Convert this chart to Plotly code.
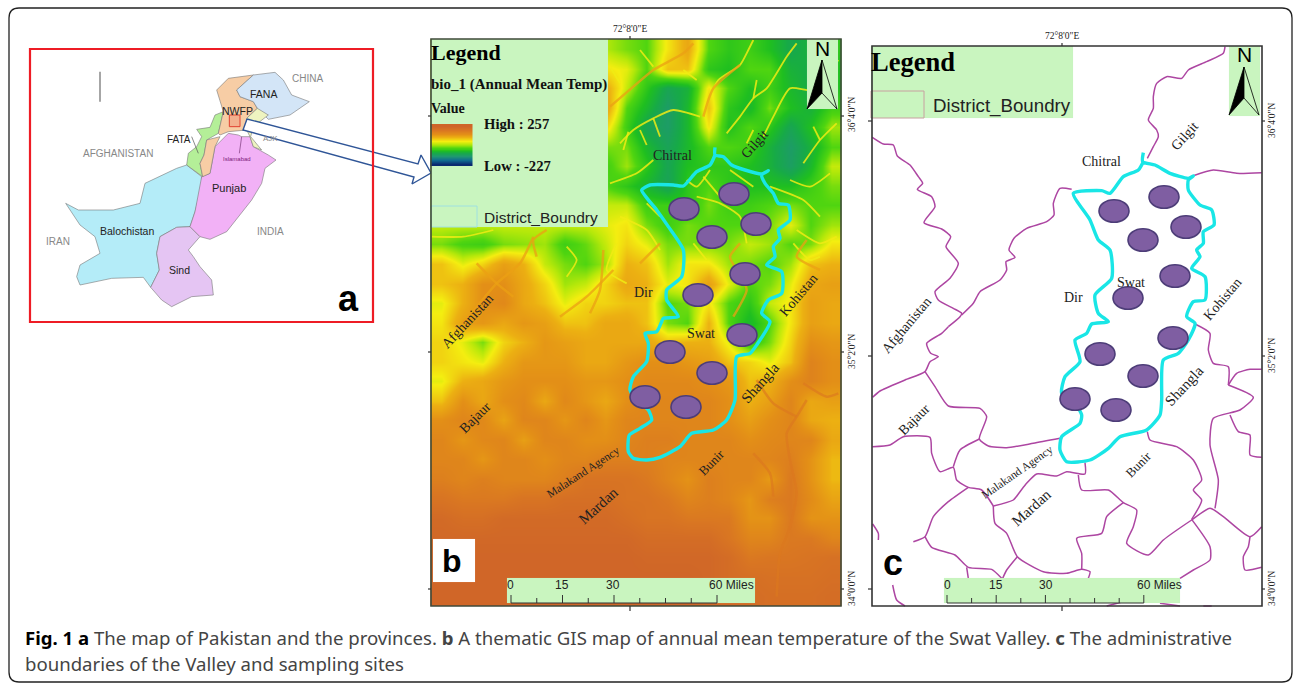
import plotly.graph_objects as go

W, H = 1295, 683
GREEN_BOX = "#c9f5bf"
# ---------- DATA ----------
temp_cols = [441,462,482,503,523,544,564,585,605,626,646,667,687,708,728,749,769,790,810,831]
temp_rows = [49,69,88,108,127,147,166,186,205,225,244,264,284,303,323,342,362,381,401,420,440,459,479,499,518,538,557,577,596]
temp = [
[90,90,90,90,90,90,90,90,85,70,60,110,150,60,40,50,30,-5,10,40],
[90,90,90,90,90,90,90,90,110,100,60,130,130,40,30,60,60,10,0,30],
[90,90,90,90,90,90,90,90,150,90,40,-10,10,110,60,30,50,20,0,30],
[90,90,90,90,90,90,90,90,160,60,20,-30,20,130,40,20,70,30,10,50],
[90,90,90,90,90,90,90,90,120,50,-10,-30,20,110,30,60,40,-10,30,80],
[90,90,90,90,90,90,90,90,70,70,20,-15,20,60,60,50,10,-30,10,60],
[90,90,90,90,90,90,90,90,50,80,40,-10,30,40,40,30,10,-25,20,90],
[90,90,90,90,90,90,90,90,60,40,15,-15,40,60,40,30,30,30,50,70],
[90,90,90,90,90,90,90,90,90,90,50,50,40,70,50,50,60,70,60,60],
[90,90,90,90,90,90,90,90,100,110,70,50,70,60,60,60,70,100,60,80],
[70,55,50,70,75,80,50,65,90,120,100,70,70,70,70,90,80,60,70,110],
[130,100,120,160,140,90,70,60,80,140,130,80,110,110,80,70,60,80,130,140],
[130,140,180,180,150,120,80,90,120,150,140,100,110,160,100,60,70,100,150,160],
[100,140,180,190,150,130,100,120,120,130,130,60,70,110,60,40,90,110,160,150],
[110,160,170,150,170,160,130,130,150,150,130,70,60,140,60,20,60,110,160,150],
[120,100,70,120,140,170,160,150,150,150,150,130,140,140,100,40,70,120,180,170],
[120,110,100,140,170,170,170,150,150,170,180,180,170,160,130,120,100,130,200,180],
[100,140,150,170,180,180,180,170,170,180,190,190,190,180,170,130,140,180,200,180],
[130,180,150,180,190,150,190,170,150,180,195,195,195,195,180,140,160,195,150,160],
[180,195,190,155,195,195,170,195,170,195,195,195,195,195,180,160,180,195,150,140],
[195,170,190,195,160,195,195,180,180,195,205,205,195,195,195,180,190,195,195,150],
[195,195,170,195,195,180,195,195,205,205,205,195,195,195,195,195,195,205,175,135],
[205,195,205,195,195,195,205,225,225,225,215,195,175,205,195,195,165,215,175,135],
[225,215,215,215,225,225,235,235,235,225,225,215,195,205,195,170,205,215,185,155],
[245,235,235,245,245,245,245,245,245,235,225,225,215,215,215,175,175,215,175,175],
[250,250,250,250,250,250,250,250,250,250,240,240,240,240,220,195,195,215,215,195],
[255,255,255,255,255,255,255,255,255,255,250,250,250,250,240,215,220,220,225,230],
[255,255,255,255,255,255,255,255,255,255,255,255,255,250,240,235,230,230,230,235],
[255,255,255,255,255,255,255,255,255,255,255,255,255,250,245,240,235,235,235,240],
]
ramp_values = [257,220,180,140,105,80,50,10,-40,-120,-227]
ramp_rows = [126,130,134,137,141,145,149,152,156,160,164]
temp_scale_stops = [(-227,"#0a2a70"),(-120,"#0f6a8f"),(-40,"#1f9870"),(0,"#17aa48"),(30,"#1fbf20"),(60,"#4fd510"),
                    (85,"#b4e80a"),(105,"#f4ee10"),(140,"#ecb012"),(180,"#e38f17"),(220,"#d97622"),(257,"#cf6528")]

a_regions = {
 "Balochistan": ("#b4ecf8",[(137,490),(175,510),(280,510),(360,490),(375,430),(430,405),(470,385),(500,375),(545,410),(545,440),(525,515),(510,560),(470,562),(420,590),(410,640),(418,690),(392,742),(370,712),(275,715),(180,735),(170,710),(180,675),(240,640),(225,590),(180,555)]),
 "Sind": ("#e5c5f3",[(470,562),(510,560),(540,590),(505,630),(520,650),(540,680),(575,720),(580,765),(515,770),(455,800),(425,780),(392,742),(418,690),(410,640),(420,590)]),
 "Punjab": ("#f2b1f6",[(545,410),(570,400),(585,320),(625,280),(655,285),(665,290),(690,290),(700,320),(745,345),(768,360),(735,385),(725,430),(695,480),(650,535),(620,575),(570,598),(540,590),(510,560),(525,515)]),
 "FATA": ("#b4ef98",[(500,375),(505,340),(530,320),(545,290),(530,268),(570,262),(585,225),(610,215),(595,280),(560,300),(552,345),(540,370),(548,410)]),
 "NWFP": ("#f7cda5",[(590,150),(625,115),(700,105),(650,150),(660,170),(700,185),(712,205),(680,235),(680,270),(625,275),(600,285),(595,280),(610,215)]),
 "NWFP2": ("#f7cda5",[(560,300),(600,290),(585,320),(570,400),(548,410),(540,370),(552,345)]),
 "FANA": ("#d3e5f7",[(650,150),(700,105),(765,97),(790,120),(815,165),(868,185),(810,225),(745,238),(712,205),(700,185),(660,170)]),
 "AJK": ("#eef4c0",[(712,205),(745,225),(700,260),(692,290),(725,330),(700,320),(690,290),(680,270),(680,235)]),
}
a_texts = [("CHINA",307,78,10,"#888888"),("FANA",263,94,10.5,"#222222"),("NWFP",237,111,10.5,"#222222"),
           ("FATA",179,139,10,"#222222"),("AFGHANISTAN",118,153,10,"#888888"),("Islamabad",237,159,6,"#7a1a7a"),
           ("Punjab",229,188,11,"#222222"),("Balochistan",127,231,10.5,"#222222"),("INDIA",270,231,10,"#888888"),
           ("IRAN",58,241,10,"#888888"),("Sind",179,270,10.5,"#222222"),("AJK",270,138,8,"#888888")]
arrow_x = [247,418,421,431,412,414,243]
arrow_y = [119,164,155,173,184,177,130]

b_veins_yellow = [
 [(850,260),(870,200),(895,150),(960,105),(985,60),(1000,30)],
 [(600,340),(640,300),(700,265),(760,240),(840,260)],[(625,305),(610,360)],[(660,300),(680,345)],[(700,265),(720,320)],
 [(1130,40),(1100,80),(1040,175),(1000,205),(960,260),(920,310)],
 [(1255,90),(1180,180),(1110,175),(1060,260),(1030,320)],[(1000,205),(1010,150)],[(1180,180),(1200,130)],
 [(1250,280),(1200,330),(1150,400)],[(1200,330),(1180,290)],
 [(570,460),(650,430),(700,390)],[(870,420),(830,470),(800,450)],
 [(1050,470),(1150,510),(1200,560)],[(850,440),(900,500)],[(930,420),(1000,470)],
 [(600,560),(680,600),(720,660)],[(1130,600),(1200,640),(1250,620)],[(980,340),(1000,300)],
 [(830,500),(900,520),(960,560),(980,640)],[(1110,450),(1170,470),(1230,430)],
 [(35,620),(130,620),(220,600)],[(440,650),(470,690),(440,740)],[(590,640),(560,720),(620,760)],
 [(820,640),(860,690)],[(1120,640),(1170,690),(1200,680)],[(680,520),(720,560)],
 [(570,110),(600,160)],[(660,60),(700,110)],[(790,120),(830,150)],
]
b_veins_orange = [
 [(570,230),(640,170),(700,120),(790,70),(820,40)],
 [(850,260),(880,175),(960,105)],
 [(340,620),(300,700),(230,760),(130,880)],[(380,600),(340,630),(350,680)],
 [(550,660),(540,780),(510,850)],[(720,640),(660,700)],
 [(960,640),(930,680),(950,720)],[(940,860),(980,780),(960,730)],
 [(1160,630),(1130,680),(1200,720)],[(170,700),(230,760),(280,800)],[(420,860),(500,800),(580,720)],
]
b_veins_lower = [
 [(1130,290),(1100,340),(1110,420),(1130,520),(1110,620),(1080,700),(1070,830)],
 [(1150,190),(1220,230),(1255,220)],[(1130,290),(1160,240)],[(1010,180),(1060,250),(1130,290)],
 [(1000,400),(1050,460),(1060,530)],[(720,90),(760,110)],
]

swat_b_z2a = [(885,352),(885,375),(910,380),(935,405),(975,420),(1025,432),(1045,422),(1025,435),(1035,460),(1060,490),(1075,520),(1105,525),(1110,570),(1075,600),(1080,625),(1060,650),(1065,680),(1040,705),(1085,725),(1085,790),(1045,810),(1025,850),(1050,875)]
swat_b_z3 = [(1010,75),(990,100),(950,110),(945,240),(920,300),(880,330),(815,340),(780,380),(720,412),(680,420),(640,415),(625,395),(628,345),(660,325),(695,300),(685,270),(660,250),(630,210),(640,170),(680,125),(685,70),(675,40),(710,35),(725,5)]
swat_b_z2b = [(730,865),(775,860),(740,810),(740,780),(785,740),(790,660),(745,590),(710,540),(665,480),(690,465),(760,465),(790,468),(830,425),(870,405),(885,375)]
swat_c_z4a = [(850,368),(848,395),(885,405),(930,430),(985,445),(1000,438),(985,450),(985,480),(1020,525),(1055,540),(1062,585),(1030,605),(1030,640),(1010,660),(1020,680),(995,715),(1035,740),(1035,810),(1000,815),(980,860),(1005,880)]
swat_c_z5 = [(985,60),(955,100),(910,120),(905,240),(900,285),(860,330),(780,350),(745,385),(690,420),(620,425),(600,390),(605,350),(660,310),(665,285),(645,250),(605,220),(615,170),(660,125),(645,60),(680,40),(695,12),(745,5)]
swat_c_z4b = [(715,850),(705,795),(755,745),(750,660),(715,630),(690,570),(640,490),(725,482),(750,490),(790,440),(835,420),(850,395)]

c_lines_z4 = [
 [(1095,50),(1090,70),(1040,95),(985,120),(965,145),(920,140),(890,160),(880,200),(880,235),(865,270),(890,300),(895,320),(880,350),(862,385)],
 [(1000,437),(1060,420),(1130,430),(1205,428)],
 [(37,322),(70,342),(100,345),(112,378),(150,405),(175,440),(188,460),(172,478),(215,500),(225,530),(192,578),(245,597),(272,620),(258,650),(295,700),(270,745),(225,785),(235,810),(280,835),(305,850),(300,860),(265,890)],
 [(635,478),(600,475),(580,520),(582,555),(560,575),(500,595),(462,625),(447,660),(465,682),(438,695),(440,720),(420,750),(360,785),(340,820),(305,855)],
]
c_lines_z5 = [
 [(1005,12),(1050,40),(1045,90),(1060,130),(1105,140),(1105,195)],
 [(265,20),(245,40),(200,70),(212,100),(235,110),(210,125),(195,155),(135,180),(60,213),(38,232)],
 [(195,155),(225,200),(265,258),(360,265),(380,290),(358,357),(385,378),(440,383),(520,370),(600,355)],
 [(37,380),(90,375),(130,350),(210,352),(215,400),(240,455),(280,442),(290,480),(325,502),(365,510),(400,558)],
 [(358,357),(300,390),(280,440)],
 [(325,502),(265,545),(220,590),(195,650),(160,665)],
 [(195,650),(215,682),(285,705),(325,742),(395,748),(425,775)],
 [(400,558),(405,610),(440,640),(472,710),(550,755),(620,760),(665,748),(690,755),(685,775)],
 [(472,710),(440,750),(428,775)],
 [(400,558),(460,540),(480,515),(500,490),(530,462),(590,468),(620,455),(675,462),(675,428)],
 [(655,465),(665,510),(745,510),(790,548),(830,570),(820,620),(800,670),(865,705),(910,660),(995,600),(1050,565),(1090,590),(1170,650),(1205,620)],
 [(790,548),(740,590),(725,640),(650,655),(665,700),(665,748)],
 [(862,335),(870,360),(950,380),(1000,420),(1025,480),(1000,510),(1025,540),(995,598)],
 [(995,598),(1050,680),(1050,720),(1000,750),(960,775)],
 [(1105,195),(1180,232),(1140,270),(1060,295),(1050,375),(1075,480),(1065,565)],
 [(1105,195),(1130,160),(1170,148),(1205,148)],
 [(1110,285),(1135,335),(1170,345),(1170,405),(1205,412)],
 [(1170,650),(1165,680),(1150,710),(1155,750),(1205,742)],
 [(38,612),(55,640),(55,660)],[(98,795),(110,840),(135,858)],[(320,742),(325,775)],
 [(740,858),(800,842)],[(900,850),(960,858)],[(1030,858),(1055,858)],
]

sites_b_x = [684,734,756,712,745,698,742,670,712,645,686]
sites_b_y = [209,194,224,237,274,295,335,352,373,397,407]
sites_c_x = [1114,1164,1186,1143,1175,1128,1173,1100,1143,1075,1116]
sites_c_y = [211,197,227,240,276,298,338,354,376,399,410]

map_labels = [
 ("Chitral",672,155,14,0),("Gilgit",754,144,14,-48),("Dir",643,292,14,0),("Kohistan",798,295,14,-50),
 ("Swat",701,333,14,0),("Afghanistan",467,321,14,-47),("Bajaur",475,417,14,-45),("Malakand Agency",583,472,11.5,-33),
 ("Mardan",598,506,15,-42),("Bunir",711,462,13,-45),("Shangla",760,383,15,-48),
 ("Chitral",1101,161,14,0),("Gilgit",1184,136,14,-48),("Swat",1131,282,14,0),("Dir",1073,297,14,0),("Kohistan",1222,299,14,-50),
 ("Afghanistan",906,325,14,-50),("Bajaur",914,419,14,-45),("Malakand Agency",1017,472,11.5,-35),("Mardan",1031,508,15,-42),
 ("Bunir",1138,464,13,-45),("Shangla",1184,386,15,-47),
]
scale_labels = ["0","15","30","60 Miles"]
coord_labels = [("72°8'0\"E",630,29,0),("72°8'0\"E",1062,36,0),
 ("36°4'0\"N",852,115,-90),("35°2'0\"N",852,352,-90),("34°0'0\"N",852,589,-90),
 ("36°4'0\"N",1272,121,-90),("35°2'0\"N",1272,356,-90),("34°0'0\"N",1272,589,-90)]
caption_line1 = "<b style='color:#000'>Fig. 1 a</b> The map of Pakistan and the provinces. <b>b</b> A thematic GIS map of annual mean temperature of the Swat Valley. <b>c</b> The administrative"
caption_line2 = "boundaries of the Valley and sampling sites"

def za(p): return [20+q[0]/3 for q in p],[40+q[1]/3 for q in p]
def crop(p, ox, oy): return [ox+q[0]/3 for q in p],[oy+q[1]/3 for q in p]

fig = go.Figure()
lo, hi = temp_scale_stops[0][0], temp_scale_stops[-1][0]
cs = [[(v-lo)/(hi-lo),c] for v,c in temp_scale_stops]
fig.add_trace(go.Heatmap(x=temp_cols,y=temp_rows,z=temp,colorscale=cs,zmin=lo,zmax=hi,zsmooth="best",showscale=False,hoverinfo="skip"))

def line(xs,ys,color,width,fill=None,fillcolor=None):
    fig.add_trace(go.Scatter(x=xs,y=ys,mode="lines",line=dict(color=color,width=width,shape="spline" if fill is None else "linear",smoothing=0.6),
        fill=fill,fillcolor=fillcolor,hoverinfo="skip",showlegend=False))

def box(x0,x1,y0,y1,color,outline=None):
    line([x0,x1,x1,x0,x0],[y0,y0,y1,y1,y0],outline or color,1 if outline else 0.1,fill="toself",fillcolor=color)

for v in b_veins_yellow:
    x,y = crop(v,420,30); line(x,y,"rgba(240,235,20,0.85)",1.8)
for v in b_veins_orange:
    x,y = crop(v,420,30); line(x,y,"rgba(235,160,20,0.75)",2.5)
for v in b_veins_lower:
    x,y = crop(v,420,320); line(x,y,"rgba(220,120,30,0.65)",2.5)

# panel a
for name,(color,pts) in a_regions.items():
    x,y = za(pts+pts[:1]); line(x,y,"#777777",0.6,fill="toself",fillcolor=color)
for p,c,w in [([(240,95),(240,185)],"#888888",1.5),([(515,290),(535,340)],"#555555",0.7),([(665,290),(658,340)],"#7a3a7a",0.7)]:
    x,y = za(p); line(x,y,c,w)
x,y = za([(628,225),(660,225),(660,260),(628,260),(628,225)]); line(x,y,"#e04030",1,fill="toself",fillcolor="rgba(240,150,120,0.5)")
line(arrow_x+arrow_x[:1],arrow_y+arrow_y[:1],"#2f5597",1.4,fill="toself",fillcolor="#ffffff")

box(431,608,39,227,GREEN_BOX); box(431,477,206,227,GREEN_BOX,"#9fe0e0")
box(807,838,39,109,GREEN_BOX)
box(871,1073,46,118,GREEN_BOX); box(871,924,91,118,GREEN_BOX,"#c8a0a0")
box(1229,1260,46,116,GREEN_BOX)
box(507,755,578,603,GREEN_BOX)
for l in c_lines_z4:
    x,y = crop(l,860,30); line(x,y,"#ad46a2",1.5)
for l in c_lines_z5:
    x,y = crop(l,860,320); line(x,y,"#ad46a2",1.5)
box(944,1180,578,603,GREEN_BOX)
box(433,475,539,582,"#ffffff")
xa,ya = crop(swat_b_z2a,420,30); xb,yb = crop(swat_b_z3,420,320); xc,yc = crop(swat_b_z2b,420,30)
line(xa+xb+xc,ya+yb+yc,"#19e6e6",3.4)
xa,ya = crop(swat_c_z4a,860,30); xb,yb = crop(swat_c_z5,860,320); xc,yc = crop(swat_c_z4b,860,30)
line(xa+xb+xc,ya+yb+yc,"#19e6e6",3.4)

for cx,top,bot,notch in [(822,60,109,93),(1244,67,115,98)]:
    line([cx,cx-15,cx,cx],[top,bot,notch,top],"#000000",0.8,fill="toself",fillcolor="#000000")
    line([cx,cx+15,cx,cx],[top,bot,notch,top],"#000000",0.8,fill="toself",fillcolor=GREEN_BOX)

for x0,step,ytop in [(511,25.75,603),(947,24.6,603)]:
    xs=[x0+i*step for i in range(9)]
    line([xs[0],xs[-1]],[ytop,ytop],"#333333",1.2)
    for i,xv in enumerate(xs):
        line([xv,xv],[ytop-(8 if i in (0,2,4,8) else 5),ytop],"#333333",1)

fig.add_trace(go.Heatmap(x=[441,462],y=ramp_rows,z=[[v,v] for v in ramp_values],colorscale=cs,zmin=lo,zmax=hi,
    zsmooth="best",showscale=False,hoverinfo="skip",xaxis="x2",yaxis="y2"))

shapes=[]
def rect(x0,y0,x1,y1,color,w):
    shapes.append(dict(type="rect",xref="x",yref="y",x0=x0,x1=x1,y0=y0,y1=y1,line=dict(color=color,width=w),layer="above"))
rect(30,49,373,322,"#ee1c25",2.2)
rect(431,39,841,606,"#3f4a3a",1.6)
rect(872,46,1262,606,"#333333",1.6)
l,t,r,b,rad = 9,8,1292,682,10
shapes.append(dict(type="path",xref="x",yref="y",layer="above",line=dict(color="#222222",width=1.3),
    path=f"M {l+rad} {t} L {r-rad} {t} Q {r} {t} {r} {t+rad} L {r} {b-rad} Q {r} {b} {r-rad} {b} L {l+rad} {b} Q {l} {b} {l} {b-rad} L {l} {t+rad} Q {l} {t} {l+rad} {t} Z"))
for x,y0,y1 in [(630,36,39),(630,606,611),(1062,43,46),(1062,606,611)]:
    shapes.append(dict(type="line",xref="x",yref="y",x0=x,x1=x,y0=y0,y1=y1,line=dict(color="#333333",width=1.2)))
for y,x0,x1 in [(116,428,431),(352,428,431),(589,428,431),(116,841,844),(352,841,844),(589,841,844),
                (121,868,872),(356,868,872),(589,868,872),(121,1262,1265),(356,1262,1265),(589,1262,1265)]:
    shapes.append(dict(type="line",xref="x",yref="y",x0=x0,x1=x1,y0=y,y1=y,line=dict(color="#333333",width=1.2)))
for xs,ys in [(sites_b_x,sites_b_y),(sites_c_x,sites_c_y)]:
    for x,y in zip(xs,ys):
        shapes.append(dict(type="circle",xref="x",yref="y",x0=x-15,x1=x+15,y0=y-11.3,y1=y+11.3,
            fillcolor="#7f5ea2",line=dict(color="#4d3d78",width=1.6),layer="above"))

ann=[]
def text(x,y,s,size,font="Liberation Serif",color="#222222",angle=0,xanchor="center"):
    ann.append(dict(x=x,y=y,xref="x",yref="y",text=s,showarrow=False,textangle=angle,xanchor=xanchor,yanchor="middle",
        font=dict(family=font,size=size,color=color),borderpad=0,borderwidth=0))
for s,x,y,sz,c in a_texts:
    text(x,y,s,sz,"Liberation Sans",c)
text(348,298,"<b>a</b>",36,"Liberation Sans","#000000")
text(452,561,"<b>b</b>",32,"Liberation Sans","#000000")
text(893,562,"<b>c</b>",36,"Liberation Sans","#000000")
for s,x,y,sz,ang in map_labels:
    text(x,y,s,sz,angle=ang)
text(431,52,"<b>Legend</b>",22,xanchor="left",color="#000000")
text(431,84,"<b>bio_1 (Annual Mean Temp)</b>",15,xanchor="left",color="#111111")
text(431,108,"<b>Value</b>",14,xanchor="left",color="#111111")
text(484,124,"<b>High : 257</b>",14.7,xanchor="left",color="#111111")
text(484,166,"<b>Low : -227</b>",14.7,xanchor="left",color="#111111")
text(484,217,"District_Boundry",15.5,"Liberation Sans",xanchor="left")
text(822,48,"N",21,"Liberation Sans","#000000")
text(871,62,"<b>Legend</b>",26.5,xanchor="left",color="#000000")
text(933,106,"District_Boundry",18.7,"Liberation Sans",xanchor="left")
text(1244,54,"N",21,"Liberation Sans","#000000")
for xs in [(510,562,613,709),(947,996,1046,1137)]:
    for s,x in zip(scale_labels,xs):
        if s=="60 Miles": text(x,585,s,12,"Liberation Sans",xanchor="left")
        else: text(x,585,s,12,"Liberation Sans")
for s,x,y,ang in coord_labels:
    text(x,y,s,9.5,angle=ang)
text(25,637,caption_line1,18.6,"Noto Sans",xanchor="left",color="#444444")
text(25,663,caption_line2,18.6,"Noto Sans",xanchor="left",color="#444444")

ax=dict(visible=False,fixedrange=True)
fig.update_layout(width=W,height=H,autosize=False,margin=dict(l=0,r=0,t=0,b=0),paper_bgcolor="#ffffff",plot_bgcolor="#ffffff",
    showlegend=False,shapes=shapes,annotations=ann,
    xaxis=dict(range=[0,W],**ax),yaxis=dict(range=[H,0],**ax),
    xaxis2=dict(range=[0,W],overlaying="x",**ax),yaxis2=dict(range=[H,0],overlaying="y",**ax))
fig.write_html("out.html",config={"displayModeBar":False},
    post_script="document.body.style.margin='0';document.body.style.overflow='hidden';")
